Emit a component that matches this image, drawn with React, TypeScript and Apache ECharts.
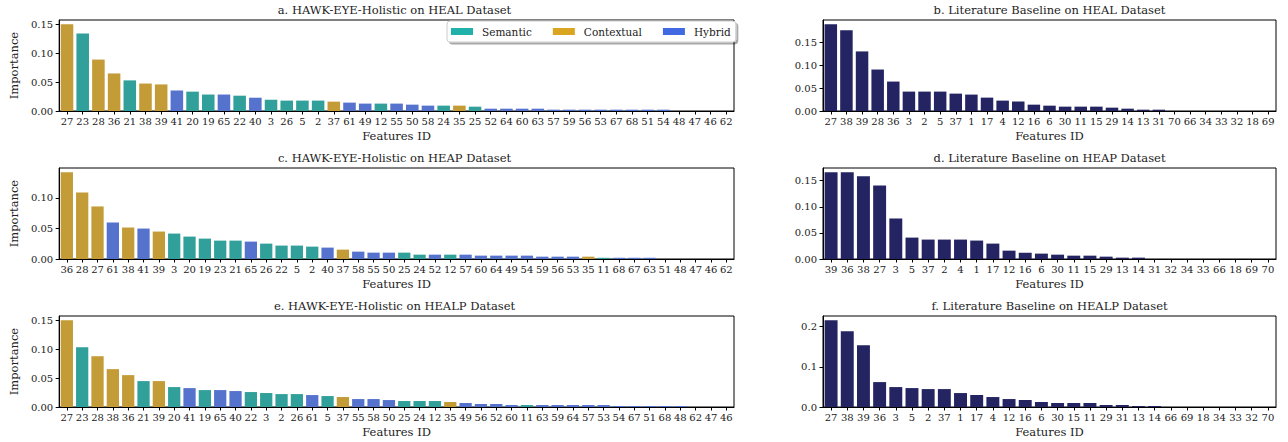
import React, { useEffect, useRef } from "react";
import * as echarts from "echarts";

// ---------- Data ----------
const healHolisticIds = ["27","23","28","36","21","38","39","41","20","19","65","22","40","3","26","5","2","37","61","49","12","55","50","58","24","35","25","52","64","60","63","57","59","56","53","67","68","51","54","48","47","46","62"];
const healHolisticVals = [0.150,0.134,0.089,0.065,0.053,0.0475,0.046,0.0355,0.0335,0.0285,0.0285,0.0265,0.023,0.0195,0.018,0.018,0.018,0.0162,0.0145,0.0128,0.0128,0.0128,0.011,0.0093,0.0093,0.0093,0.0075,0.004,0.004,0.004,0.004,0.0023,0.0023,0.0023,0.0023,0.0023,0.0023,0.0023,0.0023,0,0,0,0];
const healHolisticTypes = ["C","S","C","C","S","C","C","H","S","S","H","S","H","S","S","S","S","C","H","H","S","H","H","H","S","C","S","H","H","H","H","H","H","H","H","H","H","H","H","H","H","H","H"];

const heapHolisticIds = ["36","28","27","61","38","41","39","3","20","19","23","21","65","26","22","5","2","40","37","58","55","50","25","24","52","12","57","60","64","49","54","59","56","53","35","11","68","67","63","51","48","47","46","62"];
const heapHolisticVals = [0.1415,0.1087,0.0858,0.0596,0.0514,0.0497,0.0448,0.0415,0.0366,0.0333,0.030,0.030,0.0284,0.0251,0.0219,0.0219,0.0202,0.0186,0.0153,0.012,0.0104,0.0104,0.0104,0.0071,0.0071,0.0071,0.0071,0.0055,0.0055,0.0055,0.0055,0.0038,0.0038,0.0038,0.0038,0.002,0.002,0.002,0.002,0,0,0,0,0];
const heapHolisticTypes = ["C","C","C","H","C","H","C","S","S","S","S","S","H","S","S","S","S","H","C","H","H","H","S","S","H","S","H","H","H","H","H","H","H","H","C","S","H","H","H","H","H","H","H","H"];

const healpHolisticIds = ["27","23","28","38","36","21","39","20","41","19","65","40","22","3","2","26","61","5","37","55","58","50","25","24","12","35","49","56","52","60","11","63","59","64","57","53","54","67","51","68","48","62","47","46"];
const healpHolisticVals = [0.1495,0.1031,0.0876,0.0653,0.055,0.0447,0.0447,0.0344,0.0326,0.0292,0.0292,0.0275,0.0258,0.0241,0.0223,0.0223,0.0206,0.0189,0.0172,0.0137,0.0137,0.012,0.0103,0.0103,0.0103,0.0086,0.0069,0.0052,0.0052,0.0034,0.0034,0.0034,0.0034,0.0034,0.0034,0.0034,0.0017,0.0017,0.0017,0.0017,0.0017,0,0,0];
const healpHolisticTypes = ["C","S","C","C","C","S","C","S","H","S","H","H","S","S","S","S","H","S","C","H","H","H","S","S","S","C","H","H","H","H","S","H","H","H","H","H","H","H","H","H","H","H","H","H"];

const healBaselineIds = ["27","38","39","28","36","3","2","5","37","1","17","4","12","16","6","30","11","15","29","14","13","31","70","66","34","33","32","18","69"];
const healBaselineVals = [0.1885,0.1754,0.1296,0.0902,0.064,0.0422,0.0422,0.0422,0.0378,0.0357,0.0291,0.0226,0.0204,0.0138,0.0116,0.0095,0.0095,0.0095,0.0073,0.0051,0.0029,0.0029,0,0,0,0,0,0,0];

const heapBaselineIds = ["39","36","38","27","3","5","37","2","4","1","17","12","16","6","30","11","15","29","13","14","31","32","34","33","66","18","69","70"];
const heapBaselineVals = [0.166,0.166,0.1583,0.141,0.0776,0.041,0.0372,0.0372,0.0372,0.0353,0.0295,0.016,0.0122,0.0103,0.0083,0.0064,0.0064,0.0045,0.0026,0.0026,0,0,0,0,0,0,0,0];

const healpBaselineIds = ["27","38","39","36","3","5","2","37","1","17","4","12","16","6","30","15","11","29","31","13","14","66","69","18","34","33","32","70"];
const healpBaselineVals = [0.2157,0.1884,0.1537,0.062,0.0496,0.0471,0.0446,0.0446,0.0347,0.0298,0.0248,0.0198,0.0174,0.0124,0.0099,0.0099,0.0099,0.005,0.005,0.0025,0.0025,0,0,0,0,0,0,0];

const ticksA = [0, 0.05, 0.1, 0.15];
const ticksB = [0, 0.05, 0.1, 0.15];
const ticksC = [0, 0.05, 0.1];
const ticksD = [0, 0.05, 0.1, 0.15];
const ticksE = [0, 0.05, 0.1, 0.15];
const ticksF = [0, 0.1, 0.2];

const titles = [
  "a. HAWK-EYE-Holistic on HEAL Dataset",
  "b. Literature Baseline on HEAL Dataset",
  "c. HAWK-EYE-Holistic on HEAP Dataset",
  "d. Literature Baseline on HEAP Dataset",
  "e. HAWK-EYE-Holistic on HEALP Dataset",
  "f. Literature Baseline on HEALP Dataset",
];

const typeNames = { S: "Semantic", C: "Contextual", H: "Hybrid" } as Record<string, string>;
const barColors = { S: "#32A09A", C: "#C39B37", H: "#5573CD" } as Record<string, string>;
const legendColors = { S: "#20B2AA", C: "#DAA520", H: "#4169E1" } as Record<string, string>;
const navy = "#242463";

const FONT = "'DejaVu Serif', serif";

export default function App() {
  const ref = useRef<HTMLDivElement>(null);
  useEffect(() => {
    if (!ref.current) return;
    const chart = echarts.init(ref.current, undefined, { renderer: "svg" });

    const leftX = 55, leftW = 679;
    const rightX = 823, rightW = 453;
    const tops = [20, 168, 316];
    const H = 91;

    const panels = [
      { ids: healHolisticIds, vals: healHolisticVals, types: healHolisticTypes, ticks: ticksA, dec: 2, left: true, row: 0 },
      { ids: healBaselineIds, vals: healBaselineVals, types: null, ticks: ticksB, dec: 2, left: false, row: 0 },
      { ids: heapHolisticIds, vals: heapHolisticVals, types: heapHolisticTypes, ticks: ticksC, dec: 2, left: true, row: 1 },
      { ids: heapBaselineIds, vals: heapBaselineVals, types: null, ticks: ticksD, dec: 2, left: false, row: 1 },
      { ids: healpHolisticIds, vals: healpHolisticVals, types: healpHolisticTypes, ticks: ticksE, dec: 2, left: true, row: 2 },
      { ids: healpBaselineIds, vals: healpBaselineVals, types: null, ticks: ticksF, dec: 1, left: false, row: 2 },
    ];

    const grid: any[] = [];
    const xAxis: any[] = [];
    const yAxis: any[] = [];
    const series: any[] = [];
    const title: any[] = [];

    panels.forEach((p, i) => {
      const gx = p.left ? leftX : rightX;
      const gw = p.left ? leftW : rightW;
      const gt = tops[p.row];
      grid.push({
        left: gx, top: gt, width: gw, height: H,
        show: true, borderColor: "#000", borderWidth: 1, backgroundColor: "transparent",
        containLabel: false,
      });
      title.push({
        text: titles[i],
        left: gx + gw / 2,
        top: gt - 16,
        textAlign: "center",
        padding: 0,
        textStyle: { fontFamily: FONT, fontSize: 11.5, fontWeight: "normal", color: "#222" },
      });
      xAxis.push({
        type: "category",
        gridIndex: i,
        data: p.ids,
        boundaryGap: true,
        name: "Features ID",
        nameLocation: "middle",
        nameGap: 19,
        nameTextStyle: { fontFamily: FONT, fontSize: 11.5, color: "#222" },
        axisLine: { show: true, lineStyle: { color: "#000", width: 1 } },
        axisTick: { show: true, alignWithLabel: true, interval: 0, length: 3.5, lineStyle: { color: "#000" } },
        axisLabel: { interval: 0, fontFamily: FONT, fontSize: 10, color: "#222", margin: 5 },
        splitLine: { show: false },
      });
      const maxV = Math.max(...p.vals) * 1.05;
      yAxis.push({
        type: "value",
        gridIndex: i,
        min: 0,
        max: maxV,
        name: p.left ? "Importance" : "",
        nameLocation: "middle",
        nameRotate: 90,
        nameGap: 33,
        nameTextStyle: { fontFamily: FONT, fontSize: 11.5, color: "#222" },
        axisLine: { show: true, lineStyle: { color: "#000", width: 1 } },
        axisTick: { show: true, length: 3.5, lineStyle: { color: "#000" }, customValues: p.ticks },
        axisLabel: {
          fontFamily: FONT, fontSize: 10, color: "#222", margin: 6,
          customValues: p.ticks,
          formatter: (v: number) => v.toFixed(p.dec),
        },
        splitLine: { show: false },
      });
      if (p.types) {
        (["S", "C", "H"] as const).forEach((t) => {
          series.push({
            type: "bar",
            name: typeNames[t],
            xAxisIndex: i,
            yAxisIndex: i,
            stack: "panel" + i,
            barCategoryGap: "20%",
            itemStyle: { color: barColors[t] },
            data: p.vals.map((v, k) => (p.types![k] === t ? v : "-")),
          });
        });
      } else {
        series.push({
          type: "bar",
          name: "Baseline",
          xAxisIndex: i,
          yAxisIndex: i,
          barCategoryGap: "20%",
          itemStyle: { color: navy },
          data: p.vals,
        });
      }
    });

    chart.setOption({
      animation: false,
      backgroundColor: "#fff",
      textStyle: { fontFamily: FONT },
      title,
      grid,
      xAxis,
      yAxis,
      series,
      legend: {
        left: 447,
        top: 21,
        orient: "horizontal",
        itemWidth: 22,
        itemHeight: 7,
        itemGap: 21,
        icon: "rect",
        padding: [5, 5, 5, 4],
        backgroundColor: "#fff",
        borderColor: "#cccccc",
        borderWidth: 1,
        borderRadius: 3,
        shadowColor: "rgba(0,0,0,0.35)",
        shadowOffsetX: 2,
        shadowOffsetY: 2,
        shadowBlur: 0,
        selectedMode: false,
        textStyle: { fontFamily: FONT, fontSize: 10.5, color: "#222", padding: [0, 0, 0, 4] },
        data: (["S", "C", "H"] as const).map((t) => ({
          name: typeNames[t],
          itemStyle: { color: legendColors[t] },
        })),
      },
    });
    return () => chart.dispose();
  }, []);
  return (
    <div
      ref={ref}
      style={{ position: "fixed", left: 0, top: 0, width: 1288, height: 442 }}
    />
  );
}
